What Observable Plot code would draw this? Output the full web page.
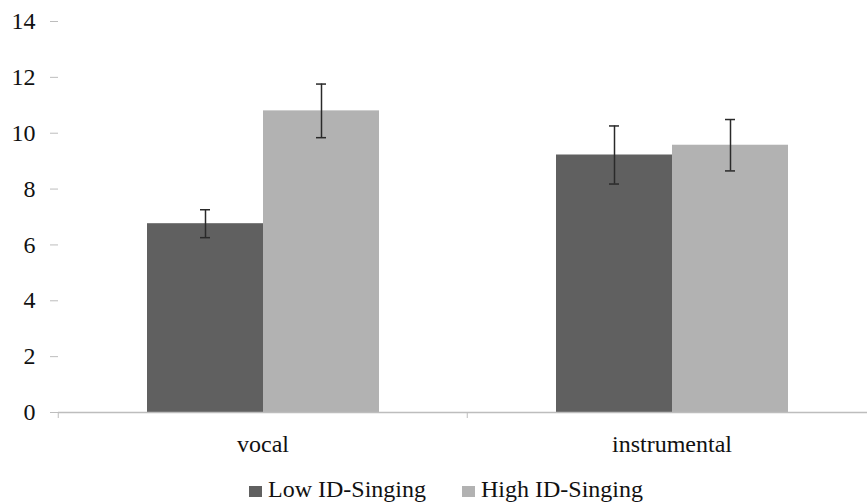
<!DOCTYPE html>
<html>
<head>
<meta charset="utf-8">
<script src="https://cdn.jsdelivr.net/npm/d3@7"></script>
<script src="https://cdn.jsdelivr.net/npm/@observablehq/plot@0.6"></script>
<style>
  html, body { margin: 0; padding: 0; background: #fff; }
  #wrap { position: relative; width: 867px; height: 503px; overflow: hidden; }
  #chart svg, #chart svg text { font-family: "Liberation Serif", serif; font-size: 24px; }
  #legend { position: absolute; left: 249px; top: 477px; display: flex; align-items: center;
    font-family: "Liberation Serif", serif; font-size: 24px; line-height: 24px; color: #111; }
  .item { display: flex; align-items: center; }
  .sw { width: 13px; height: 11px; margin-right: 6px; margin-top: 4px; }
</style>
</head>
<body>
<div id="wrap"><div id="chart"></div><div id="legend"></div></div>
<script>
const categories = ["vocal", "instrumental"];
const series = ["Low ID-Singing", "High ID-Singing"];
const lowMeans = [6.76, 9.22];
const highMeans = [10.8, 9.57];
const lowErr = [0.5, 1.04];
const highErr = [0.96, 0.92];
const yTicks = [0, 2, 4, 6, 8, 10, 12, 14];
const colors = ["#606060", "#b2b2b2"];

const rows = [];
categories.forEach((c, i) => {
  rows.push({cat: c, series: series[0], mean: lowMeans[i], err: lowErr[i]});
  rows.push({cat: c, series: series[1], mean: highMeans[i], err: highErr[i]});
});

const fxRange = [57, 876];
const band = (fxRange[1] - fxRange[0]) / categories.length;

const plot = Plot.plot({
  width: 867,
  height: 465,
  marginLeft: 57,
  marginRight: 0,
  marginTop: 21,
  marginBottom: 53,
  style: {fontFamily: "Liberation Serif", fontSize: "24px", color: "#111", background: "white", overflow: "visible"},
  fx: {domain: categories, range: fxRange, padding: 0, label: null},
  x: {domain: series, paddingInner: 0, paddingOuter: 0.752, axis: null},
  y: {domain: [0, 14], label: null},
  color: {domain: series, range: colors},
  marks: [
    Plot.axisY({ticks: yTicks, tickSize: 8, tickPadding: 15, stroke: "#bdbdbd", fill: "#111", line: true, label: null}),
    Plot.barY(rows, {fx: "cat", x: "series", y: "mean", fill: "series"}),
    Plot.ruleY([0], {stroke: "#bdbdbd", strokeWidth: 1.5}),
    Plot.axisFx({anchor: "bottom", tickSize: 0, tickPadding: 22, label: null, fill: "#111"}),
    Plot.axisFx({anchor: "bottom", tickSize: 6, text: null, dx: -band / 2, label: null, stroke: "#bdbdbd"}),
    Plot.ruleX(rows, {fx: "cat", x: "series", y1: d => d.mean - d.err, y2: d => d.mean + d.err, stroke: "#2a2a2a", strokeWidth: 1.5}),
    Plot.tickY(rows, {fx: "cat", x: "series", y: d => d.mean - d.err, insetLeft: 53, insetRight: 53, stroke: "#2a2a2a", strokeWidth: 1.5}),
    Plot.tickY(rows, {fx: "cat", x: "series", y: d => d.mean + d.err, insetLeft: 53, insetRight: 53, stroke: "#2a2a2a", strokeWidth: 1.5})
  ]
});
document.getElementById("chart").appendChild(plot);

const legend = d3.select("#legend");
series.forEach((s, i) => {
  const item = legend.append("div").attr("class", "item").style("margin-right", i === 0 ? "36px" : "0");
  item.append("div").attr("class", "sw").style("background", colors[i]);
  item.append("span").text(s);
});
</script>
</body>
</html>
